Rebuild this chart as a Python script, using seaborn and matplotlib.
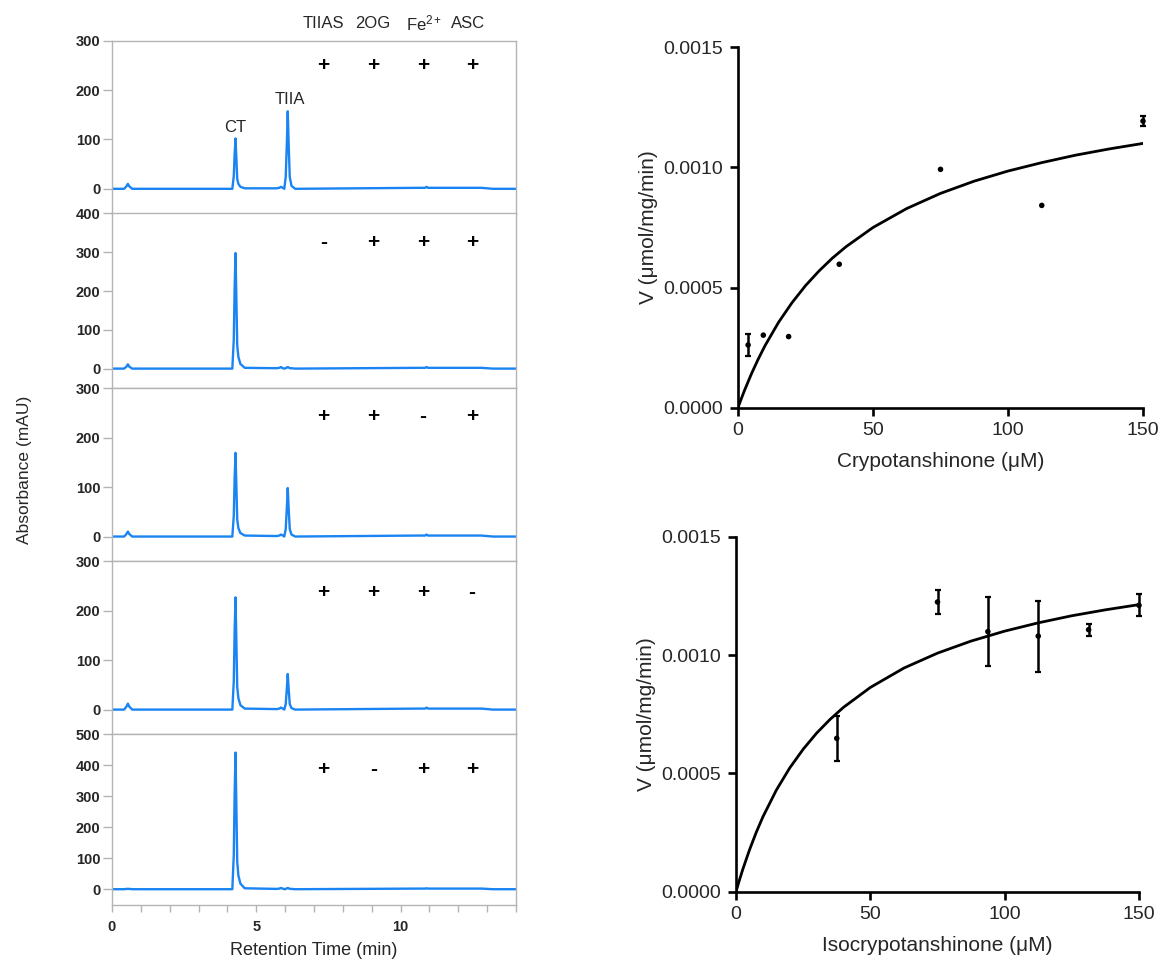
import matplotlib
matplotlib.use("Agg")
import matplotlib.pyplot as plt
import seaborn as sns
import pandas as pd

# ---------------- data ----------------
# Chromatograms (retention time in min, absorbance in mAU)
time_min = [0.00, 0.42, 0.50, 0.55, 0.60, 0.70, 3.90, 4.17, 4.22, 4.25, 4.28, 4.31, 4.34, 4.38,
            4.45, 4.60, 5.70, 5.80, 5.85, 5.92, 5.97, 6.02, 6.06, 6.09, 6.12, 6.16, 6.22, 6.35,
            10.60, 10.85, 10.90, 10.95, 12.80, 13.20, 14.00]
abs_complete = [0, 0, 5, 10, 5, 0, 0, 0, 26, 71, 102, 61, 20, 10, 4, 1, 1, 2, 4, 2, 0,
                24, 94, 157, 94, 24, 6, 0, 2, 2, 4, 2, 2, 0, 0]
abs_no_enzyme = [0, 0, 5, 11, 5, 0, 0, 0, 75, 209, 298, 179, 60, 30, 12, 2, 1, 2, 4, 1, 0,
                 1, 3, 4, 3, 1, 1, 0, 2, 2, 4, 2, 2, 0, 0]
abs_no_fe = [0, 0, 5, 10, 5, 0, 0, 0, 42, 118, 169, 101, 34, 17, 7, 2, 1, 2, 4, 2, 0,
             15, 59, 98, 59, 15, 4, 0, 2, 2, 4, 2, 2, 0, 0]
abs_no_asc = [0, 0, 6, 12, 6, 0, 0, 0, 57, 159, 227, 136, 45, 23, 9, 2, 1, 2, 4, 2, 0,
              11, 43, 72, 43, 11, 3, 0, 2, 2, 4, 2, 2, 0, 0]
abs_no_2og = [0, 0, 1, 1, 1, 0, 0, 0, 110, 309, 441, 265, 88, 44, 18, 3, 1, 2, 4, 2, 0,
              1, 3, 4, 3, 1, 1, 0, 2, 2, 3, 2, 2, 0, 0]
panel_traces = [abs_complete, abs_no_enzyme, abs_no_fe, abs_no_asc, abs_no_2og]
panel_ymax = [300, 400, 300, 300, 500]

components = ["TIIAS", "2OG", "Fe$^{2+}$", "ASC"]
component_x = [7.33, 9.05, 10.80, 12.35]
sign_x = [7.33, 9.05, 10.78, 12.47]
panel_signs = [["+", "+", "+", "+"],
               ["-", "+", "+", "+"],
               ["+", "+", "-", "+"],
               ["+", "+", "+", "-"],
               ["+", "-", "+", "+"]]
sign_y = [250, 325, 242, 237, 386]
peak_labels = ["CT", "TIIA"]
peak_label_x = [4.27, 6.17]
peak_label_y = [124, 180]
rt_ticks = [0, 5, 10]

# Kinetics
cry_conc = [3.75, 9.375, 18.75, 37.5, 75, 112.5, 150]
cry_v = [0.000261, 0.000302, 0.000296, 0.000597, 0.000992, 0.000842, 0.001193]
cry_err = [0.000045, 0, 0, 0, 0, 0, 0.00002]
iso_conc = [37.5, 75, 93.75, 112.5, 131.25, 150]
iso_v = [0.000648, 0.001224, 0.001099, 0.00108, 0.001107, 0.00121]
iso_err = [0.000094, 0.00005, 0.000145, 0.00015, 0.000025, 0.000047]
fit_conc = [0, 1.25, 2.5, 5, 7.5, 10, 15, 20, 25, 30, 35, 40, 50, 62.5, 75, 87.5, 100,
            112.5, 125, 137.5, 150]
cry_fit = [0, 0.0000383, 0.0000745, 0.0001417, 0.0002025, 0.000258, 0.000355, 0.000437,
           0.000508, 0.000569, 0.000623, 0.000670, 0.000750, 0.000829, 0.000892, 0.000943,
           0.000985, 0.001020, 0.001051, 0.001077, 0.001100]
iso_fit = [0, 0.0000482, 0.0000935, 0.000176, 0.0002498, 0.000316, 0.000429, 0.000523,
           0.000602, 0.000670, 0.000728, 0.000779, 0.000863, 0.000945, 0.001008, 0.001059,
           0.001101, 0.001136, 0.001166, 0.001191, 0.001213]
v_ticks = [0.0, 0.0005, 0.0010, 0.0015]
v_ticklabels = ["0.0000", "0.0005", "0.0010", "0.0015"]
conc_ticks = [0, 50, 100, 150]

# ---------------- style ----------------
sns.set_style("white")
plt.rcParams['font.family'] = ['Liberation Sans', 'DejaVu Sans']
plt.rcParams['mathtext.fontset'] = 'custom'
plt.rcParams['mathtext.rm'] = 'Liberation Sans'
plt.rcParams['mathtext.it'] = 'Liberation Sans:italic'
plt.rcParams['mathtext.bf'] = 'Liberation Sans:bold'

W, H = 1167, 961
fig = plt.figure(figsize=(W / 100, H / 100), dpi=100)

BLUE = "#1a84f2"
GREY = "#b4b4b4"

# panel boundaries in pixels (top/bottom)
edges = [40.7, 213.5, 388.0, 561.3, 734.3, 904.7]
x0_px, x1_px = 112, 516

axes_left = []
for i in range(5):
    top, bot = edges[i], edges[i + 1]
    ax = fig.add_axes([x0_px / W, 1 - bot / H, (x1_px - x0_px) / W, (bot - top) / H])
    df = pd.DataFrame({"t": time_min, "a": panel_traces[i]})
    sns.lineplot(data=df, x="t", y="a", ax=ax, color=BLUE, linewidth=1.7,
                 estimator=None, sort=False)
    ax.set_xlim(0, 14)
    ax.set_ylim(-50, panel_ymax[i])
    ax.set_yticks(list(range(0, panel_ymax[i] + 1, 100)))
    ax.set_xlabel("")
    ax.set_ylabel("")
    for s in ax.spines.values():
        s.set_color(GREY)
        s.set_linewidth(1.0)
        s.set_visible(True)
    ax.tick_params(axis="y", direction="out", length=6.5, width=1.0, color=GREY,
                   labelsize=10.5, pad=2, left=True)
    for lab in ax.get_yticklabels():
        lab.set_fontweight("bold")
    if i < 4:
        ax.tick_params(axis="x", bottom=False, labelbottom=False)
    else:
        ax.set_xticks(list(range(0, 15)))
        ax.set_xticklabels([str(v) if v in rt_ticks else "" for v in range(0, 15)])
        ax.tick_params(axis="x", direction="out", length=5, width=1.0, color=GREY,
                       labelsize=10.5, pad=6, bottom=True)
        for lab in ax.get_xticklabels():
            lab.set_fontweight("bold")
        ax.set_xlabel("Retention Time (min)", fontsize=13, labelpad=6)
    for xs, sg in zip(sign_x, panel_signs[i]):
        ax.text(xs, sign_y[i], sg, ha="center", va="center", fontsize=15,
                fontweight="bold", color="black")
    axes_left.append(ax)

ax1 = axes_left[0]
for name, xc in zip(components, component_x):
    ax1.text(xc, 1.097, name, transform=ax1.get_xaxis_transform(), ha="center",
             va="center", fontsize=12)
for name, xc, yc in zip(peak_labels, peak_label_x, peak_label_y):
    ax1.text(xc, yc, name, ha="center", va="center", fontsize=12)

fig.text(25 / W, 1 - 470 / H, "Absorbance (mAU)", rotation=90, ha="center",
         va="center", fontsize=12.5)


def kinetics(ax, conc, v, err, fit, xlabel):
    sns.lineplot(x=fit_conc, y=fit, ax=ax, color="black", linewidth=2.0,
                 estimator=None, sort=False)
    sns.scatterplot(x=conc, y=v, ax=ax, color="black", s=16, edgecolor="none",
                    zorder=5, clip_on=False)
    ex = [c for c, e in zip(conc, err) if e > 0]
    ey = [y for y, e in zip(v, err) if e > 0]
    ee = [e for e in err if e > 0]
    ax.errorbar(ex, ey, yerr=ee, fmt="none", ecolor="black", elinewidth=1.8,
                capsize=2.0, capthick=1.6, clip_on=False, zorder=4)
    ax.set_xlim(0, 150)
    ax.set_ylim(0, 0.0015)
    ax.set_xticks(conc_ticks)
    ax.set_yticks(v_ticks)
    ax.set_yticklabels(v_ticklabels)
    sns.despine(ax=ax)
    for s in ("left", "bottom"):
        ax.spines[s].set_color("black")
        ax.spines[s].set_linewidth(1.9)
    ax.tick_params(axis="both", direction="out", length=5.5, width=1.9, color="black",
                   labelsize=14, pad=5, left=True, bottom=True)
    ax.set_xlabel(xlabel, fontsize=15, labelpad=9)
    ax.set_ylabel("V (μmol/mg/min)", fontsize=15, labelpad=4)


axr1 = fig.add_axes([738 / W, 1 - 407.7 / H, (1143 - 738) / W, (407.7 - 47.3) / H])
kinetics(axr1, cry_conc, cry_v, cry_err, cry_fit, "Crypotanshinone (μM)")
axr2 = fig.add_axes([736 / W, 1 - 891.7 / H, (1139 - 736) / W, (891.7 - 536.7) / H])
kinetics(axr2, iso_conc, iso_v, iso_err, iso_fit, "Isocrypotanshinone (μM)")

fig.savefig("out.png", dpi=100)
